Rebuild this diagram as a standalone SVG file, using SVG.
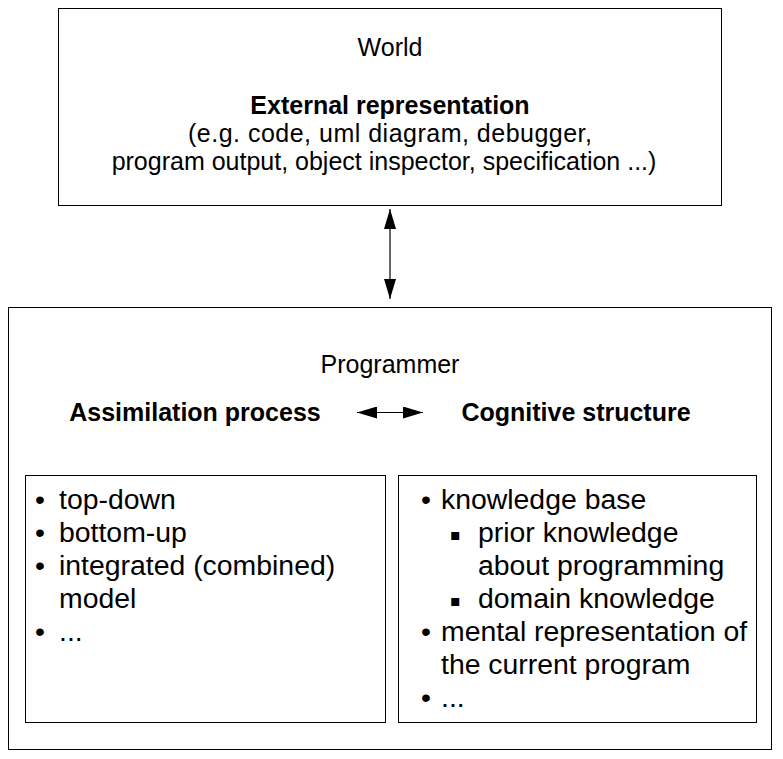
<svg xmlns="http://www.w3.org/2000/svg" width="783" height="759" viewBox="0 0 783 759">
<style>
.box{fill:#fff;stroke:#000;stroke-width:1}
text{font-family:"Liberation Sans",Arial,sans-serif;fill:#000}
.t{font-size:25px}
.b{font-size:25px;font-weight:bold}
.l{font-size:28.4px}
.c{text-anchor:middle}
.sq{font-family:"DejaVu Sans",sans-serif;font-size:16px}
.ln{stroke:#000;stroke-width:1.2;fill:none}
</style>
<defs>
<marker id="ah" viewBox="0 0 20 12" refX="20" refY="6" markerWidth="20" markerHeight="12" markerUnits="userSpaceOnUse" orient="auto-start-reverse">
<path d="M0,0 L20,6 L0,12 Z" fill="#000"/>
</marker>
</defs>
<rect width="783" height="759" fill="#fff"/>
<g id="world">
<rect class="box" x="58.5" y="8.5" width="663" height="197"/>
<text class="t c" x="390" y="56">World</text>
<text class="b c" x="390" y="114">External representation</text>
<text class="t c" x="390" y="142" textLength="404" lengthAdjust="spacing">(e.g. code, uml diagram, debugger,</text>
<text class="t c" x="384" y="170">program output, object inspector, specification ...)</text>
</g>
<g id="programmer">
<rect class="box" x="8.5" y="307.5" width="763" height="442"/>
<text class="t c" x="390" y="373">Programmer</text>
</g>
<g id="assimilation-title">
<text class="b c" x="195" y="421">Assimilation process</text>
</g>
<g id="cognitive-title">
<text class="b c" x="576" y="421">Cognitive structure</text>
</g>
<g id="assimilation">
<rect class="box" x="25.5" y="475.5" width="360" height="247"/>
<text class="l" x="35" y="509">•</text><text class="l" x="59" y="509">top-down</text>
<text class="l" x="35" y="542">•</text><text class="l" x="59" y="542">bottom-up</text>
<text class="l" x="35" y="575">•</text><text class="l" x="59" y="575">integrated (combined)</text>
<text class="l" x="59" y="608">model</text>
<text class="l" x="35" y="641">•</text><text class="l" x="59" y="641">...</text>
</g>
<g id="cognitive">
<rect class="box" x="398.5" y="475.5" width="358" height="247"/>
<text class="l" x="421" y="509">•</text><text class="l" x="441" y="509">knowledge base</text>
<text class="sq" x="450" y="540">▪</text><text class="l" x="478" y="542">prior knowledge</text>
<text class="l" x="478" y="575">about programming</text>
<text class="sq" x="450" y="606">▪</text><text class="l" x="478" y="608">domain knowledge</text>
<text class="l" x="421" y="641">•</text><text class="l" x="441" y="641">mental representation of</text>
<text class="l" x="441" y="674">the current program</text>
<text class="l" x="421" y="707">•</text><text class="l" x="441" y="707">...</text>
</g>
<g id="connectors">
<line class="ln" x1="390" y1="209" x2="390" y2="299" marker-start="url(#ah)" marker-end="url(#ah)"/>
<line class="ln" x1="357" y1="412.5" x2="423" y2="412.5" marker-start="url(#ah)" marker-end="url(#ah)"/>
</g>
</svg>
